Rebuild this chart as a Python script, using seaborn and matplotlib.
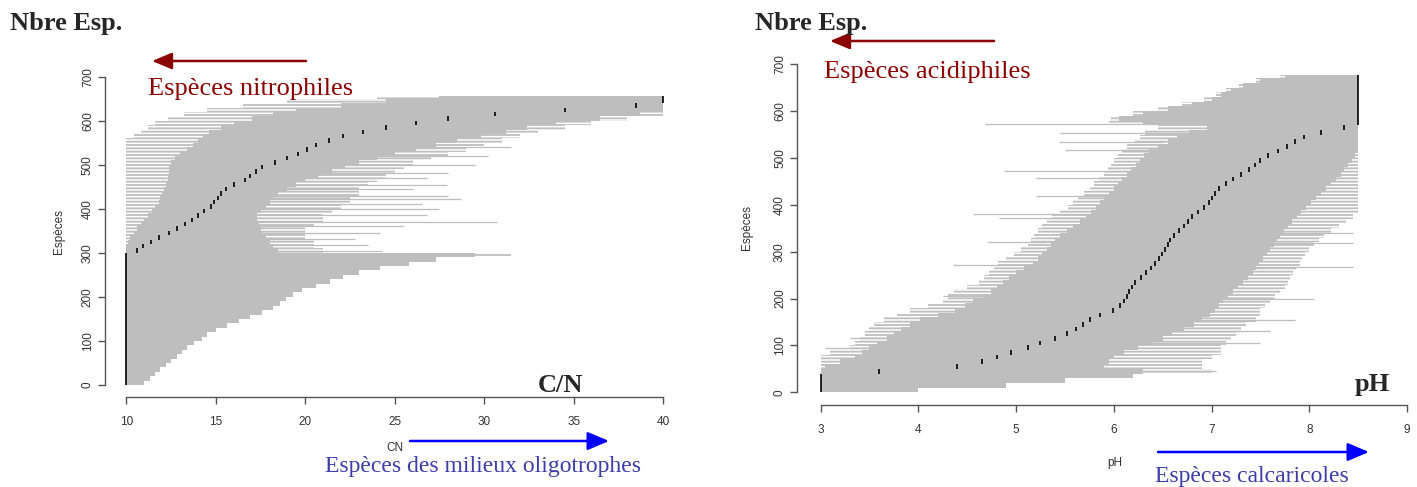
import numpy as np
import pandas as pd
import matplotlib
matplotlib.use("Agg")
import matplotlib.pyplot as plt
import seaborn as sns
from matplotlib.patches import FancyArrowPatch

# ------------------------------------------------------------------ data
# Species are sorted by optimum; every row groups 10 consecutive species.
cn_rows = [0, 10, 20, 30, 40, 50, 60, 70, 80, 90, 100, 110, 120, 130, 140, 150, 160, 170, 180, 190,
           200, 210, 220, 230, 240, 250, 260, 270, 280, 290, 300, 310, 320, 330, 340, 350, 360, 370, 380, 390,
           400, 410, 420, 430, 440, 450, 460, 470, 480, 490, 500, 510, 520, 530, 540, 550, 560, 570, 580, 590,
           600, 610, 620, 630, 640, 650]
cn_n_species = 656
cn_opt = [10.0, 10.0, 10.0, 10.0, 10.0, 10.0, 10.0, 10.0, 10.0, 10.0,
          10.0, 10.0, 10.0, 10.0, 10.0, 10.0, 10.0, 10.0, 10.0, 10.0,
          10.0, 10.0, 10.0, 10.0, 10.0, 10.0, 10.0, 10.0, 10.0, 10.0,
          10.6, 10.95, 11.35, 11.8, 12.4, 12.8, 13.25, 13.65, 14.0, 14.35,
          14.7, 14.9, 15.1, 15.3, 15.55, 16.0, 16.6, 16.9, 17.25, 17.6,
          18.3, 18.95, 19.6, 20.1, 20.6, 21.3, 22.1, 23.2, 24.5, 26.2,
          28.0, 30.6, 34.5, 38.5, 40.0, 40.0]
cn_low_core = [10.0, 10.0, 10.0, 10.0, 10.0, 10.0, 10.0, 10.0, 10.0, 10.0,
               10.0, 10.0, 10.0, 10.0, 10.0, 10.0, 10.0, 10.0, 10.0, 10.0,
               10.0, 10.0, 10.0, 10.0, 10.0, 10.0, 10.0, 10.0, 10.0, 10.0,
               10.0, 10.0, 10.1, 10.2, 10.4, 10.6, 10.8, 11.0, 11.2, 11.4,
               11.6, 11.8, 11.9, 12.0, 12.1, 12.2, 12.3, 12.3, 12.4, 12.4,
               12.5, 12.7, 13.0, 13.4, 13.7, 14.0, 14.3, 14.6, 15.3, 16.0,
               17.0, 18.2, 19.5, 22.0, 24.5, 27.5]
cn_low_outer = [10.0, 10.0, 10.0, 10.0, 10.0, 10.0, 10.0, 10.0, 10.0, 10.0,
                10.0, 10.0, 10.0, 10.0, 10.0, 10.0, 10.0, 10.0, 10.0, 10.0,
                10.0, 10.0, 10.0, 10.0, 10.0, 10.0, 10.0, 10.0, 10.0, 10.0,
                10.0, 10.0, 10.0, 10.0, 10.0, 10.0, 10.0, 10.0, 10.0, 10.0,
                10.0, 10.0, 10.0, 10.0, 10.0, 10.0, 10.0, 10.0, 10.0, 10.0,
                10.0, 10.0, 10.0, 10.0, 10.0, 10.0, 10.4, 10.8, 11.2, 11.6,
                12.3, 13.2, 14.5, 16.5, 19.0, 24.0]
cn_high_core = [11.0, 11.3, 11.6, 11.9, 12.2, 12.5, 12.8, 13.1, 13.4, 13.8,
                14.2, 14.5, 15.0, 15.6, 16.3, 16.9, 17.6, 18.2, 18.6, 18.9,
                19.3, 19.8, 20.6, 21.4, 22.1, 23.0, 24.2, 25.8, 27.3, 29.5,
                18.5, 18.2, 18.0, 17.8, 17.6, 17.5, 17.4, 17.3, 17.3, 17.5,
                17.8, 18.0, 18.2, 18.5, 19.0, 19.5, 20.0, 20.7, 21.5, 22.2,
                23.0, 24.0, 25.0, 26.2, 27.3, 28.5, 29.8, 31.2, 32.4, 34.0,
                36.5, 38.7, 40.0, 40.0, 40.0, 40.0]
cn_high_outer = [11.0, 11.3, 11.6, 11.9, 12.2, 12.5, 12.8, 13.1, 13.4, 13.8,
                 14.2, 14.5, 15.0, 15.6, 16.3, 16.9, 17.6, 18.2, 18.6, 18.9,
                 19.3, 19.8, 20.6, 21.4, 22.1, 23.0, 24.2, 25.8, 27.3, 31.5,
                 21.0, 20.5, 20.5, 20.0, 20.0, 20.0, 20.5, 21.0, 21.0, 21.5,
                 22.0, 22.5, 22.5, 23.0, 23.0, 23.5, 24.0, 24.5, 25.0, 25.5,
                 26.0, 27.0, 28.0, 29.0, 30.0, 31.0, 32.0, 33.0, 34.5, 36.0,
                 38.0, 40.0, 40.0, 40.0, 40.0, 40.0]
# single long ranges sticking out of the envelope
cn_out_species = [305, 318, 332, 346, 362, 370, 386, 400, 412, 422, 430, 444, 455, 470, 482, 500, 520, 540]
cn_out_low = [10.5, 10.8, 11.2, 11.5, 12.0, 12.5, 12.5, 13.0, 13.5, 13.5, 14.0, 14.0, 14.5, 15.0, 15.0, 16.0, 17.0, 17.5]
cn_out_high = [24.3, 23.5, 22.8, 24.2, 25.5, 30.7, 26.8, 27.5, 26.5, 28.7, 28.0, 26.0, 27.9, 26.8, 28.0, 29.5, 30.2, 31.5]

ph_rows = [0, 10, 20, 30, 40, 50, 60, 70, 80, 90, 100, 110, 120, 130, 140, 150, 160, 170, 180, 190,
           200, 210, 220, 230, 240, 250, 260, 270, 280, 290, 300, 310, 320, 330, 340, 350, 360, 370, 380, 390,
           400, 410, 420, 430, 440, 450, 460, 470, 480, 490, 500, 510, 520, 530, 540, 550, 560, 570, 580, 590,
           600, 610, 620, 630, 640, 650, 660, 670]
ph_n_species = 678
ph_opt = [3.0, 3.0, 3.0, 3.0, 3.6, 4.4, 4.65, 4.8, 4.95, 5.12,
          5.25, 5.4, 5.52, 5.61, 5.68, 5.76, 5.86, 5.99, 6.06, 6.1,
          6.13, 6.16, 6.19, 6.22, 6.28, 6.33, 6.38, 6.42, 6.46, 6.49,
          6.52, 6.55, 6.58, 6.62, 6.67, 6.72, 6.76, 6.8, 6.86, 6.92,
          6.97, 7.0, 7.04, 7.08, 7.15, 7.22, 7.3, 7.38, 7.44, 7.5,
          7.58, 7.68, 7.77, 7.85, 7.95, 8.12, 8.35, 8.5, 8.5, 8.5,
          8.5, 8.5, 8.5, 8.5, 8.5, 8.5, 8.5, 8.5]
ph_low_core = [3.0, 3.0, 3.0, 3.0, 3.0, 3.05, 3.2, 3.35, 3.42, 3.5,
               3.58, 3.68, 3.75, 3.82, 3.92, 4.02, 4.2, 4.38, 4.48, 4.56,
               4.66, 4.74, 4.8, 4.87, 4.93, 5.0, 5.08, 5.17, 5.22, 5.27,
               5.32, 5.36, 5.4, 5.45, 5.52, 5.58, 5.65, 5.72, 5.77, 5.82,
               5.86, 5.9, 5.95, 6.0, 6.04, 6.08, 6.13, 6.18, 6.23, 6.27,
               6.31, 6.36, 6.45, 6.55, 6.65, 6.77, 6.95, 6.3, 6.05, 6.3,
               6.55, 6.8, 7.0, 7.1, 7.2, 7.32, 7.5, 7.75]
ph_low_outer = [3.0, 3.0, 3.0, 3.0, 3.0, 3.0, 3.0, 3.0, 3.1, 3.3,
                3.35, 3.4, 3.45, 3.5, 3.55, 3.65, 3.78, 3.92, 4.1, 4.25,
                4.3, 4.37, 4.5, 4.62, 4.67, 4.72, 4.77, 4.82, 4.9, 4.98,
                5.05, 5.12, 5.15, 5.18, 5.22, 5.27, 5.32, 5.37, 5.45, 5.53,
                5.58, 5.63, 5.7, 5.76, 5.8, 5.85, 5.9, 5.94, 5.97, 6.0,
                6.04, 6.08, 6.14, 6.22, 6.27, 6.32, 6.45, 5.95, 5.97, 6.2,
                6.45, 6.7, 6.92, 7.05, 7.15, 7.28, 7.45, 7.7]
ph_high_core = [4.0, 4.9, 5.5, 6.2, 6.3, 5.9, 5.95, 6.0, 6.1, 6.25,
                6.4, 6.5, 6.6, 6.72, 6.82, 6.9, 6.98, 7.04, 7.08, 7.12,
                7.17, 7.22, 7.27, 7.32, 7.37, 7.42, 7.45, 7.49, 7.53, 7.57,
                7.6, 7.64, 7.67, 7.7, 7.74, 7.78, 7.82, 7.87, 7.92, 7.97,
                8.02, 8.07, 8.12, 8.17, 8.22, 8.27, 8.32, 8.36, 8.4, 8.44,
                8.47, 8.5, 8.5, 8.5, 8.5, 8.5, 8.5, 8.5, 8.5, 8.5,
                8.5, 8.5, 8.5, 8.5, 8.5, 8.5, 8.5, 8.5]
ph_high_outer = [4.0, 4.9, 5.5, 6.2, 7.0, 6.9, 6.9, 7.0, 7.1, 7.1,
                 7.15, 7.2, 7.25, 7.3, 7.35, 7.45, 7.5, 7.5, 7.55, 7.6,
                 7.65, 7.7, 7.75, 7.78, 7.8, 7.83, 7.86, 7.9, 7.93, 7.96,
                 8.0, 8.05, 8.1, 8.15, 8.22, 8.3, 8.38, 8.45, 8.5, 8.5,
                 8.5, 8.5, 8.5, 8.5, 8.5, 8.5, 8.5, 8.5, 8.5, 8.5,
                 8.5, 8.5, 8.5, 8.5, 8.5, 8.5, 8.5, 8.5, 8.5, 8.5,
                 8.5, 8.5, 8.5, 8.5, 8.5, 8.5, 8.5, 8.5]
ph_out_species = [573, 553, 534, 518, 472, 458, 420, 380, 372, 320, 272, 205, 115, 95,
                  268, 318, 340, 200, 155, 130, 105, 46]
ph_out_low = [4.68, 5.45, 5.44, 5.5, 4.88, 5.2, 5.2, 4.56, 4.83, 4.7, 4.35, 4.25, 3.3, 3.05,
              6.5, 6.7, 6.8, 6.5, 6.2, 6.0, 5.8, 5.0]
ph_out_high = [7.3, 6.8, 6.5, 6.4, 6.3, 6.2, 6.0, 6.0, 5.9, 5.5, 5.3, 5.2, 4.5, 4.2,
               8.45, 8.45, 8.45, 8.05, 7.85, 7.6, 7.5, 7.05]

cn_xticks = [10, 15, 20, 25, 30, 35, 40]
ph_xticks = [3, 4, 5, 6, 7, 8, 9]
y_ticks = [0, 100, 200, 300, 400, 500, 600, 700]

# ------------------------------------------------------------------ style
sns.set_theme(style="white")
plt.rcParams["font.family"] = ["Liberation Sans", "DejaVu Sans"]
plt.rcParams["patch.force_edgecolor"] = False
plt.rcParams["hatch.color"] = "#bebebe"
plt.rcParams["hatch.linewidth"] = 1.3
SERIF = ["Liberation Serif", "DejaVu Serif"]
GRAY = "#bebebe"
AXC = "#555555"
DARKRED = "#8b0000"
BLUE = "#0000ff"
BLUETXT = "#3c3caa"

W, H, DPI = 1417, 487, 100
fig = plt.figure(figsize=(W / DPI, H / DPI), dpi=DPI)


def px_axes(left, top, right, bottom):
    return fig.add_axes([left / W, 1 - bottom / H, (right - left) / W, (bottom - top) / H])


def ftext(x, y, s, **kw):
    fig.text(x / W, 1 - y / H, s, **kw)


def farrow(x0, x1, y, color, hl, hw, lw):
    fig.add_artist(FancyArrowPatch((x0 / W, 1 - y / H), (x1 / W, 1 - y / H),
                                   transform=fig.transFigure,
                                   arrowstyle=f"-|>,head_length={hl},head_width={hw}",
                                   mutation_scale=1, color=color, lw=lw,
                                   shrinkA=0, shrinkB=0))


def draw_panel(ax, rows, n, opt, lo_c, lo_o, hi_c, hi_o, o_sp, o_lo, o_hi, xlim, xticks):
    df = pd.DataFrame(dict(row=rows, opt=opt, lo_c=lo_c, lo_o=lo_o, hi_c=hi_c, hi_o=hi_o))
    step = np.diff(df["row"]).min()
    df["h"] = np.minimum(step, n - df["row"])
    # ragged zone: thin horizontal gray lines (hatch) on white
    ax.barh(df["row"], df["hi_o"] - df["lo_o"], left=df["lo_o"], height=df["h"],
            align="edge", color="white", lw=0, hatch="-----")
    ax.barh(df["row"], df["hi_c"] - df["lo_c"], left=df["lo_c"], height=df["h"],
            align="edge", color=GRAY, lw=0)
    ax.hlines(o_sp, o_lo, o_hi, color=GRAY, lw=0.9)
    ax.vlines(df["opt"], df["row"], df["row"] + df["h"], color="black", lw=1.2)

    ax.set_xlim(*xlim)
    ax.set_ylim(-28, 728)
    ax.set_xticks(xticks)
    ax.set_yticks(y_ticks)
    ax.set_xticklabels([str(t) for t in xticks])
    ax.set_yticklabels([str(t) for t in y_ticks])
    sns.despine(ax=ax)
    ax.spines["left"].set_bounds(0, 700)
    ax.spines["bottom"].set_bounds(xticks[0], xticks[-1])
    for sp in ("left", "bottom"):
        ax.spines[sp].set_color(AXC)
        ax.spines[sp].set_linewidth(1.0)
    ax.tick_params(axis="both", which="major", length=5, width=1.0, color=AXC,
                   labelsize=8.5, labelcolor="#333333", bottom=True, left=True)
    ax.tick_params(axis="x", pad=8.5)
    ax.tick_params(axis="y", labelrotation=90, pad=3)
    for lbl in ax.get_yticklabels():
        lbl.set_va("center")
    ax.grid(False)
    ax.set_facecolor("none")


# ------------------------------------------------------------------ C/N panel
ax1 = px_axes(105.0, 64.4, 684.5, 397.3)
draw_panel(ax1, cn_rows, cn_n_species, cn_opt, cn_low_core, cn_low_outer, cn_high_core,
           cn_high_outer, cn_out_species, cn_out_low, cn_out_high, (8.8, 41.2), cn_xticks)

# ------------------------------------------------------------------ pH panel
ax2 = px_axes(797.1, 51.2, 1430.5, 405.4)
draw_panel(ax2, ph_rows, ph_n_species, ph_opt, ph_low_core, ph_low_outer, ph_high_core,
           ph_high_outer, ph_out_species, ph_out_low, ph_out_high, (2.76, 9.24), ph_xticks)

# ------------------------------------------------------------------ annotations
ftext(10, 30, "Nbre Esp.", family=SERIF, fontsize=19, fontweight="bold", ha="left", va="baseline")
ftext(755, 30, "Nbre Esp.", family=SERIF, fontsize=19, fontweight="bold", ha="left", va="baseline")

ftext(148, 95, "Espèces nitrophiles", family=SERIF, fontsize=19, color=DARKRED, ha="left", va="baseline")
ftext(824, 78, "Espèces acidiphiles", family=SERIF, fontsize=19, color=DARKRED, ha="left", va="baseline")

ftext(583, 392, "C/N", family=SERIF, fontsize=19, fontweight="bold", ha="right", va="baseline")
ftext(1355, 391, "pH", family=SERIF, fontsize=19, fontweight="bold", ha="left", va="baseline")

ftext(59.5, 231, "Espèces", fontsize=8.5, color="#333333", rotation=90, ha="center", va="center")
ftext(747, 228, "Espèces", fontsize=8.5, color="#333333", rotation=90, ha="center", va="center")
ftext(395, 448, "CN", fontsize=8.5, color="#333333", ha="center", va="center")
ftext(1115, 463, "pH", fontsize=8.5, color="#333333", ha="center", va="center")

ftext(325, 472, "Espèces des milieux oligotrophes", family=SERIF, fontsize=17, color=BLUETXT,
      ha="left", va="baseline")
ftext(1155, 482, "Espèces calcaricoles", family=SERIF, fontsize=17, color=BLUETXT,
      ha="left", va="baseline")

farrow(306, 152, 61, DARKRED, 12, 5, 1.8)
farrow(994, 830, 41, DARKRED, 12, 5, 1.8)
farrow(410, 609, 441, BLUE, 13, 5.5, 1.8)
farrow(1158, 1369, 452, BLUE, 13, 5.5, 1.8)

fig.savefig("out.png", dpi=DPI)
